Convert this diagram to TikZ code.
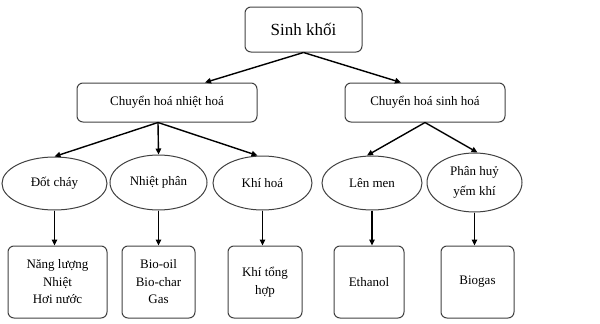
\documentclass[tikz,border=0pt]{standalone}
\usepackage{fontspec}
\setmainfont{Liberation Serif}
\usetikzlibrary{shapes.geometric,arrows.meta}
\begin{document}
\begin{tikzpicture}[x=1pt,y=-1pt,
  box/.style={draw=black!75,line width=1pt,rounded corners=6pt,align=center,inner sep=0pt,font=\fontsize{13}{17.5}\selectfont},
  ell/.style={draw=black!75,line width=1pt,ellipse,align=center,inner sep=0pt,font=\fontsize{13}{17.5}\selectfont},
  arr/.style={line width=1.4pt,-{Triangle[length=6pt,width=5.5pt]}}]
\useasboundingbox (0,0) rectangle (600,324);
% top
\node[box,minimum width=117pt,minimum height=45pt,font=\fontsize{17}{20}\selectfont] (sk) at (303.5,29.5) {Sinh khối};
\node[box,minimum width=180pt,minimum height=39pt] (nh) at (167,102.5) {Chuyển hoá nhiệt hoá};
\node[box,minimum width=160pt,minimum height=39pt] (sh) at (425,102.5) {Chuyển hoá sinh hoá};
% ellipses
\node[ell,minimum width=105pt,minimum height=53pt] (e1) at (54.5,183.5) {Đốt cháy};
\node[ell,minimum width=97pt,minimum height=55pt] (e2) at (158.5,182.5) {\raisebox{3pt}{Nhiệt phân}};
\node[ell,minimum width=99pt,minimum height=54pt] (e3) at (262.5,183) {Khí hoá};
\node[ell,minimum width=100pt,minimum height=54pt] (e4) at (372,183) {Lên men};
\node[ell,minimum width=95pt,minimum height=59pt] (e5) at (474.5,182.5) {Phân huỷ\\[2pt]yếm khí};
% bottom boxes
\node[box,minimum width=99pt,minimum height=72pt] (b1) at (57.5,282) {Năng lượng\\Nhiệt\\Hơi nước};
\node[box,minimum width=73pt,minimum height=72pt] (b2) at (158.5,282) {Bio-oil\\Bio-char\\Gas};
\node[box,minimum width=74pt,minimum height=72pt] (b3) at (265,282) {Khí tổng\\hợp};
\node[box,minimum width=70pt,minimum height=72pt] (b4) at (369,282) {Ethanol};
\node[box,minimum width=73pt,minimum height=72pt] (b5) at (477.5,282) {Biogas};
% arrows
\draw[arr] (sk.south) -- ([xshift=38pt]nh.north);
\draw[arr] (sk.south) -- ([xshift=-24pt]sh.north);
\draw[arr] ([xshift=-9pt]nh.south) -- (e1.north);
\draw[arr] ([xshift=-9pt]nh.south) -- (e2.north);
\draw[arr] ([xshift=-9pt]nh.south) -- ([xshift=-5pt]e3.north);
\draw[arr] (sh.south) -- ([xshift=-5pt]e4.north);
\draw[arr] (sh.south) -- ([xshift=3pt]e5.north);
\draw[arr] (e1.south) -- (e1.south |- b1.north);
\draw[arr] (e2.south) -- (e2.south |- b2.north);
\draw[arr] (e3.south) -- (e3.south |- b3.north);
\draw[arr] (e4.south) -- (e4.south |- b4.north);
\draw[arr] (e5.south) -- (e5.south |- b5.north);
\end{tikzpicture}
\end{document}
